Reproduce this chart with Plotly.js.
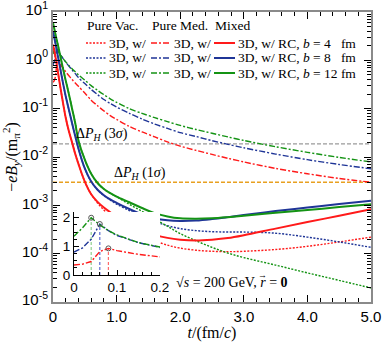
<!DOCTYPE html>
<html>
<head>
<meta charset="utf-8">
<script src="https://cdn.plot.ly/plotly-3.0.1.min.js"></script>
<style>
  body { margin: 0; background: #fff; }
  #chart { width: 383px; height: 342px; }
</style>
</head>
<body>
<div id="chart"></div>
<script>
// time grid, fm/c
const tVals = [0, 0.02, 0.04, 0.06, 0.08, 0.1, 0.15, 0.2, 0.25, 0.3, 0.35, 0.4, 0.5, 0.6, 0.7, 0.8, 0.9,
  1.0, 1.2, 1.4, 1.6, 1.8, 2.0, 2.25, 2.5, 2.75, 3.0, 3.5, 4.0, 4.5, 5.0];

// Mixed (3D, w/ RC)
const mixB4 = [2.1, 1.6, 1.15, 0.8, 0.55, 0.37, 0.15, 0.065, 0.034, 0.02, 0.0115, 0.0072, 0.0031, 0.0017, 0.00118, 9.0e-4, 7.2e-4,
  5.8e-4, 4.0e-4, 3.0e-4, 2.45e-4, 2.12e-4, 1.95e-4, 1.88e-4, 1.95e-4, 2.1e-4, 2.4e-4, 3.3e-4, 4.5e-4, 6.1e-4, 8.3e-4];
const mixB8 = [4.0, 3.0, 2.2, 1.6, 1.15, 0.85, 0.38, 0.18, 0.095, 0.05, 0.027, 0.015, 0.0058, 0.0031, 0.0021, 0.00162, 0.00133,
  0.00113, 8.4e-4, 6.5e-4, 5.4e-4, 4.9e-4, 4.75e-4, 4.85e-4, 5.2e-4, 5.7e-4, 6.3e-4, 7.6e-4, 9.0e-4, 1.07e-3, 1.25e-3];
const mixB12 = [6.0, 4.5, 3.4, 2.6, 2.0, 1.5, 0.75, 0.38, 0.2, 0.1, 0.05, 0.022, 0.0088, 0.0045, 0.0029, 0.00218, 0.00178,
  0.00152, 0.00116, 8.8e-4, 6.9e-4, 5.9e-4, 5.4e-4, 5.3e-4, 5.4e-4, 5.7e-4, 6.1e-4, 7.0e-4, 8.0e-4, 9.2e-4, 1.05e-3];

// Pure vacuum
const vacB4 = [2.1, 1.6, 1.15, 0.8, 0.55, 0.37, 0.15, 0.065, 0.034, 0.02, 0.0115, 0.0072, 0.0031, 0.0017, 0.00112, 8.0e-4, 6.1e-4,
  4.8e-4, 3.2e-4, 2.4e-4, 1.85e-4, 1.5e-4, 1.3e-4, 1.18e-4, 1.12e-4, 1.1e-4, 1.12e-4, 1.22e-4, 1.42e-4, 1.75e-4, 2.2e-4];
const vacB8 = [4.0, 3.0, 2.2, 1.6, 1.15, 0.85, 0.38, 0.18, 0.095, 0.05, 0.027, 0.015, 0.0058, 0.0031, 0.0021, 0.00158, 0.00128,
  0.00106, 7.8e-4, 5.8e-4, 4.6e-4, 3.8e-4, 3.3e-4, 3.0e-4, 2.85e-4, 2.8e-4, 2.8e-4, 2.65e-4, 2.2e-4, 1.75e-4, 1.35e-4];
const vacB12 = [6.0, 4.5, 3.4, 2.6, 2.0, 1.5, 0.75, 0.38, 0.2, 0.1, 0.05, 0.022, 0.0088, 0.0045, 0.0029, 0.00218, 0.00178,
  0.0015, 0.00105, 7.5e-4, 5.2e-4, 3.7e-4, 2.6e-4, 1.85e-4, 1.35e-4, 1.03e-4, 8.3e-5, 5.8e-5, 4.0e-5, 2.8e-5, 1.95e-5];

// Pure medium
const medB4 = [0.35, 0.38, 0.47, 0.82, 0.93, 0.85, 0.72, 0.58, 0.48, 0.4, 0.34, 0.29, 0.21, 0.15, 0.115, 0.09, 0.072,
  0.06, 0.043, 0.033, 0.026, 0.0205, 0.0168, 0.0137, 0.0113, 0.0094, 0.0079, 0.0058, 0.0045, 0.0036, 0.003];
const medB8 = [0.8, 0.95, 1.25, 1.78, 1.55, 1.38, 1.13, 0.92, 0.76, 0.63, 0.53, 0.44, 0.33, 0.25, 0.195, 0.155, 0.128,
  0.108, 0.08, 0.061, 0.048, 0.039, 0.032, 0.0265, 0.0218, 0.0183, 0.0155, 0.0115, 0.0088, 0.007, 0.0057];
const medB12 = [1.35, 1.65, 2.0, 1.75, 1.55, 1.4, 1.13, 0.93, 0.78, 0.67, 0.58, 0.5, 0.39, 0.3, 0.24, 0.195, 0.16,
  0.135, 0.1, 0.08, 0.065, 0.054, 0.045, 0.037, 0.031, 0.026, 0.022, 0.0163, 0.0125, 0.0098, 0.0079];

// Lambda polarization thresholds
const sigmaLabels = ['3', '1'];
const sigmaVals = [0.0186, 0.003];

const impactParams = [4, 8, 12];
const colors = ['#ff1a1a', '#1f3597', '#149314'];
const lightColors = ['#ff6a6a', '#5a6cd0', '#8fcf8f'];
const mixData = [mixB4, mixB8, mixB12];
const vacData = [vacB4, vacB8, vacB12];
const medData = [medB4, medB8, medB12];

const dotStyle = '2px,1.5px';
const dashDotStyle = '6px,2px,2px,2px';

let traces = [];

// horizontal threshold lines
traces.push({ x: [0, 5], y: [sigmaVals[0], sigmaVals[0]], mode: 'lines', hoverinfo: 'skip',
  line: { color: '#9a9a9a', width: 1.3, dash: '4px,2px' } });
traces.push({ x: [0, 5], y: [sigmaVals[1], sigmaVals[1]], mode: 'lines', hoverinfo: 'skip',
  line: { color: '#e8a020', width: 1.3, dash: '4px,2px' } });

for (let i = 0; i < 3; i++) {
  traces.push({ x: tVals, y: vacData[i], mode: 'lines',
    line: { color: colors[i], width: 1.4, dash: dotStyle, shape: 'spline', smoothing: 1 } });
}
for (let i = 0; i < 3; i++) {
  traces.push({ x: tVals, y: medData[i], mode: 'lines',
    line: { color: colors[i], width: 1.4, dash: dashDotStyle, shape: 'spline', smoothing: 0.8 } });
}
for (let i = 0; i < 3; i++) {
  traces.push({ x: tVals, y: mixData[i], mode: 'lines',
    line: { color: colors[i], width: 2, shape: 'spline', smoothing: 1 } });
}

// inset: pure medium at early times, with peak markers
for (let i = 0; i < 3; i++) {
  const d = medData[i];
  let k = d.indexOf(Math.max(...d));
  traces.push({ x: [tVals[k], tVals[k]], y: [0, d[k]], xaxis: 'x2', yaxis: 'y2', mode: 'lines',
    line: { color: lightColors[i], width: 1.2, dash: '3px,2px' } });
}
for (let i = 0; i < 3; i++) {
  traces.push({ x: tVals, y: medData[i], xaxis: 'x2', yaxis: 'y2', mode: 'lines',
    line: { color: colors[i], width: 1.4, dash: dashDotStyle } });
}
for (let i = 0; i < 3; i++) {
  const d = medData[i];
  let k = d.indexOf(Math.max(...d));
  traces.push({ x: [tVals[k]], y: [d[k]], xaxis: 'x2', yaxis: 'y2', mode: 'markers',
    marker: { symbol: 'circle-open', size: 5, color: '#555', line: { width: 1 } } });
}

// log axis ticks
let yTickVals = [], yTickText = [], yMinor = [];
for (let n = -5; n <= 1; n++) {
  yTickVals.push(Math.pow(10, n));
  yTickText.push('10<sup>' + (n < 0 ? '-' + (-n) : n) + '</sup>');
  if (n < 1) for (let m = 2; m <= 9; m++) yMinor.push(m * Math.pow(10, n));
}

const serif = 'Liberation Serif, Times New Roman, serif';
const sans = 'Liberation Sans, Arial, sans-serif';

// legend drawn by hand: three columns per row
const px = v => (v - 53) / 318;
const py = v => (302 - v) / 290;
let shapes = [];
let annotations = [];
const headers = ['Pure Vac.', 'Pure Med.', 'Mixed'];
const headerX = [85, 150, 213];
headers.forEach((h, j) => {
  annotations.push({ xref: 'paper', yref: 'paper', x: px(headerX[j]), y: py(26), text: h, showarrow: false,
    xanchor: 'left', yanchor: 'middle', font: { family: serif, size: 13.5, color: '#000' } });
});
const rowY = [43, 58, 73];
const sampleX = [[86, 106], [151, 171], [214, 235]];
const sampleDash = [dotStyle, dashDotStyle, 'solid'];
for (let i = 0; i < 3; i++) {
  for (let j = 0; j < 3; j++) {
    shapes.push({ type: 'line', xref: 'paper', yref: 'paper', x0: px(sampleX[j][0]), x1: px(sampleX[j][1]),
      y0: py(rowY[i]), y1: py(rowY[i]),
      line: { color: colors[i], width: j == 2 ? 2 : 1.4, dash: sampleDash[j] } });
    let label = '3D, w/';
    if (j == 2) {
      label = '3D, w/ RC, <i>b</i> = ' + impactParams[i] + (impactParams[i] < 10 ? '\u00a0\u00a0 fm' : ' fm');
    }
    annotations.push({ xref: 'paper', yref: 'paper', x: px(sampleX[j][1] + 1), y: py(rowY[i]), text: label,
      showarrow: false, xanchor: 'left', yanchor: 'middle', font: { family: serif, size: 13.5, color: '#000' } });
  }
}

// threshold labels
annotations.push({ x: 0.33, y: Math.log10(0.029), text: '\u0394<i>P<sub>H</sub></i> (' + sigmaLabels[0] + '<i>\u03c3</i>)',
  showarrow: false, xanchor: 'left', yanchor: 'middle', font: { family: serif, size: 14, color: '#000' } });
annotations.push({ x: 0.92, y: Math.log10(0.0046), text: '\u0394<i>P<sub>H</sub></i> (' + sigmaLabels[1] + '<i>\u03c3</i>)',
  showarrow: false, xanchor: 'left', yanchor: 'middle', font: { family: serif, size: 14, color: '#000' } });
annotations.push({ x: 1.9, y: -4.6,
  text: '\u221a<i>s</i> = 200 GeV, <i>r</i> = <b>0</b>',
  showarrow: false, xanchor: 'left', yanchor: 'middle', font: { family: serif, size: 14, color: '#000' } });
// vector arrow over r
annotations.push({ x: 3.3, y: -4.44, text: '\u2192', showarrow: false, xanchor: 'center', yanchor: 'middle',
  font: { family: serif, size: 9, color: '#000' } });

const layout = {
  width: 383, height: 342,
  margin: { l: 53, r: 12, t: 12, b: 40 },
  showlegend: false,
  paper_bgcolor: '#fff', plot_bgcolor: '#fff',
  xaxis: {
    range: [0, 5], tickmode: 'array', tickvals: [0, 1, 2, 3, 4, 5],
    ticktext: ['0', '1.0', '2.0', '3.0', '4.0', '5.0'],
    ticks: 'inside', ticklen: 7, tickcolor: '#000', mirror: 'allticks',
    minor: { tickmode: 'linear', tick0: 0, dtick: 0.2, ticks: 'inside', ticklen: 4, tickcolor: '#000' },
    showline: true, linecolor: '#8a8a8a', linewidth: 2, showgrid: false, zeroline: false,
    tickfont: { family: sans, size: 15, color: '#000' },
    title: { text: '<i>t</i>/(fm/<i>c</i>)', font: { family: serif, size: 16, color: '#000' }, standoff: 6 }
  },
  yaxis: {
    type: 'log', range: [-5, 1], tickmode: 'array', tickvals: yTickVals, ticktext: yTickText,
    ticks: 'inside', ticklen: 7, tickcolor: '#000', mirror: 'allticks',
    ticklabelshift: -2, ticklabeloverflow: 'allow',
    minor: { tickmode: 'array', tickvals: yMinor, ticks: 'inside', ticklen: 4, tickcolor: '#000' },
    showline: true, linecolor: '#8a8a8a', linewidth: 2, showgrid: false, zeroline: false,
    tickfont: { family: sans, size: 15, color: '#000' },
    title: { text: '\u2212<i>eB<sub>y</sub></i>/(m<sub>\u03c0</sub><sup>2</sup>)', font: { family: serif, size: 16, color: '#000' }, standoff: 2 }
  },
  xaxis2: {
    anchor: 'y2', domain: [px(74), px(160)], range: [0, 0.2],
    tickmode: 'array', tickvals: [0, 0.1, 0.2], ticktext: ['0', '0.1', '0.2'],
    ticks: 'inside', ticklen: 5, tickcolor: '#000',
    minor: { tickmode: 'linear', tick0: 0, dtick: 0.02, ticks: 'inside', ticklen: 3, tickcolor: '#000' },
    showline: true, linecolor: '#000', linewidth: 1, showgrid: false, zeroline: false,
    tickfont: { family: sans, size: 13.5, color: '#000' }
  },
  yaxis2: {
    anchor: 'x2', domain: [py(275), py(212)], range: [0, 2.2],
    tickmode: 'array', tickvals: [0, 1, 2], ticktext: ['0', '1', '2'],
    ticks: 'inside', ticklen: 5, tickcolor: '#000',
    minor: { tickmode: 'linear', tick0: 0, dtick: 0.25, ticks: 'inside', ticklen: 3, tickcolor: '#000' },
    showline: true, linecolor: '#000', linewidth: 1, showgrid: false, zeroline: false,
    tickfont: { family: sans, size: 13.5, color: '#000' }
  },
  shapes: shapes,
  annotations: annotations
};

Plotly.newPlot('chart', traces, layout, { displayModeBar: false });
</script>
</body>
</html>
